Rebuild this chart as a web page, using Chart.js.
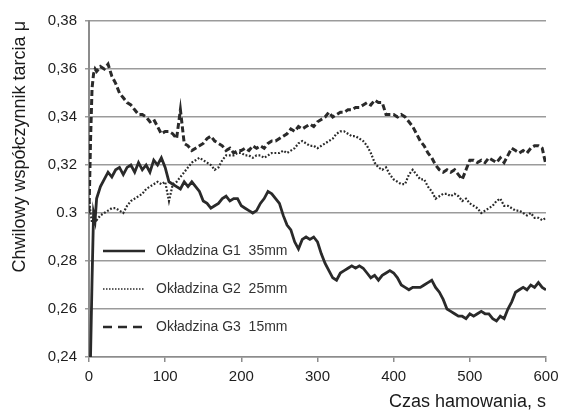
<!DOCTYPE html>
<html>
<head>
<meta charset="utf-8">
<script src="https://cdn.jsdelivr.net/npm/chart.js@4"></script>
<style>
html, body { margin: 0; padding: 0; background: #fff; }
</style>
</head>
<body>
<canvas id="wykres" width="574" height="413"></canvas>
<script>
// czas hamowania [s]
const czas = [
    0, 2, 4, 6, 8,
    10, 15, 20, 25, 30, 35, 40, 45, 50, 55,
    60, 65, 70, 75, 80, 85, 90, 95, 100, 105,
    110, 115, 120, 125, 130, 135, 140, 145, 150, 155,
    160, 165, 170, 175, 180, 185, 190, 195, 200, 205,
    210, 215, 220, 225, 230, 235, 240, 245, 250, 255,
    260, 265, 270, 275, 280, 285, 290, 295, 300, 305,
    310, 315, 320, 325, 330, 335, 340, 345, 350, 355,
    360, 365, 370, 375, 380, 385, 390, 395, 400, 405,
    410, 415, 420, 425, 430, 435, 440, 445, 450, 455,
    460, 465, 470, 475, 480, 485, 490, 495, 500, 505,
    510, 515, 520, 525, 530, 535, 540, 545, 550, 555,
    560, 565, 570, 575, 580, 585, 590, 595, 600
];

// Okładzina G1 35mm
const g1 = [
    0.240, 0.240, 0.272, 0.300, 0.297,
    0.306, 0.311, 0.314, 0.317, 0.315, 0.318, 0.319, 0.316, 0.319, 0.320,
    0.317, 0.321, 0.318, 0.320, 0.317, 0.322, 0.320, 0.323, 0.319, 0.313,
    0.312, 0.311, 0.310, 0.313, 0.311, 0.313, 0.311, 0.309, 0.305, 0.304,
    0.302, 0.303, 0.304, 0.306, 0.307, 0.305, 0.306, 0.306, 0.303, 0.302,
    0.301, 0.300, 0.301, 0.304, 0.306, 0.309, 0.308, 0.306, 0.304, 0.299,
    0.295, 0.293, 0.288, 0.285, 0.289, 0.290, 0.289, 0.290, 0.288, 0.283,
    0.279, 0.276, 0.273, 0.272, 0.275, 0.276, 0.277, 0.278, 0.277, 0.278,
    0.277, 0.275, 0.273, 0.274, 0.272, 0.274, 0.275, 0.276, 0.275, 0.273,
    0.270, 0.269, 0.268, 0.269, 0.269, 0.269, 0.270, 0.271, 0.272, 0.269,
    0.267, 0.264, 0.260, 0.259, 0.258, 0.257, 0.257, 0.256, 0.258, 0.257,
    0.258, 0.259, 0.258, 0.258, 0.256, 0.255, 0.257, 0.256, 0.260, 0.263,
    0.267, 0.268, 0.269, 0.268, 0.270, 0.269, 0.271, 0.269, 0.268
];

// Okładzina G2 25mm
const g2 = [
    0.306, 0.300, 0.296, 0.297, 0.298,
    0.297, 0.299, 0.300, 0.301, 0.302, 0.302, 0.301, 0.300, 0.303, 0.305,
    0.306, 0.307, 0.308, 0.310, 0.311, 0.312, 0.313, 0.312, 0.313, 0.305,
    0.312, 0.313, 0.315, 0.317, 0.319, 0.321, 0.322, 0.323, 0.322, 0.321,
    0.320, 0.318, 0.319, 0.322, 0.324, 0.324, 0.324, 0.325, 0.325, 0.324,
    0.324, 0.323, 0.324, 0.324, 0.323, 0.324, 0.325, 0.325, 0.325, 0.326,
    0.325, 0.326, 0.327, 0.329, 0.330, 0.329, 0.328, 0.328, 0.327, 0.328,
    0.329, 0.330, 0.331, 0.333, 0.334, 0.334, 0.333, 0.332, 0.332, 0.331,
    0.330, 0.328, 0.325, 0.321, 0.319, 0.318, 0.319, 0.316, 0.314, 0.313,
    0.312, 0.312, 0.316, 0.318, 0.316, 0.314, 0.314, 0.311, 0.309, 0.306,
    0.307, 0.308, 0.308, 0.307, 0.308, 0.307, 0.305, 0.306, 0.304, 0.303,
    0.302, 0.300, 0.301, 0.302, 0.303, 0.305, 0.306, 0.303, 0.303, 0.302,
    0.301, 0.301, 0.300, 0.299, 0.300, 0.298, 0.298, 0.297, 0.298
];

// Okładzina G3 15mm
const g3 = [
    0.300, 0.330, 0.352, 0.358, 0.360,
    0.359, 0.361, 0.360, 0.362, 0.357, 0.354, 0.350, 0.348, 0.346, 0.345,
    0.343, 0.341, 0.341, 0.340, 0.338, 0.339, 0.336, 0.333, 0.334, 0.334,
    0.333, 0.331, 0.343, 0.329, 0.328, 0.326, 0.327, 0.328, 0.329, 0.331,
    0.332, 0.330, 0.329, 0.328, 0.326, 0.327, 0.325, 0.326, 0.326, 0.327,
    0.326, 0.328, 0.327, 0.328, 0.327, 0.329, 0.330, 0.330, 0.331, 0.332,
    0.333, 0.335, 0.334, 0.336, 0.335, 0.336, 0.337, 0.336, 0.338, 0.339,
    0.340, 0.342, 0.340, 0.341, 0.342, 0.342, 0.343, 0.343, 0.344, 0.344,
    0.345, 0.346, 0.345, 0.347, 0.346, 0.346, 0.341, 0.341, 0.341, 0.340,
    0.341, 0.340, 0.338, 0.336, 0.333, 0.330, 0.328, 0.325, 0.323, 0.320,
    0.318, 0.317, 0.318, 0.317, 0.318, 0.316, 0.314, 0.318, 0.322, 0.322,
    0.321, 0.322, 0.321, 0.323, 0.322, 0.321, 0.323, 0.321, 0.324, 0.327,
    0.326, 0.325, 0.326, 0.325, 0.327, 0.328, 0.328, 0.327, 0.320
];

const nazwySerii = ['Okładzina G1  35mm', 'Okładzina G2  25mm', 'Okładzina G3  15mm'];
const xTicks = [0, 100, 200, 300, 400, 500, 600];
const yTicks = [0.24, 0.26, 0.28, 0.30, 0.32, 0.34, 0.36, 0.38];
const yTickLabels = ['0,24', '0,26', '0,28', '0.3', '0,32', '0,34', '0,36', '0,38'];

const KOLOR = '#2a2a2a';
const FONT = '"Liberation Sans", Arial, sans-serif';
const legendDash = [[], [1.5, 1.5], [9, 6]];

function punkty(seria) {
    return czas.map((t, i) => ({ x: t, y: seria[i] }));
}

// legenda wewnatrz obszaru wykresu, lewy dolny rog
const legendaWykresu = {
    id: 'legendaWykresu',
    afterDatasetsDraw(chart) {
        const ctx = chart.ctx;
        const a = chart.chartArea;
        ctx.save();
        chart.data.datasets.forEach((ds, i) => {
            const y = a.top + 230 + i * 38;
            ctx.beginPath();
            ctx.setLineDash(legendDash[i]);
            ctx.lineWidth = i === 1 ? 1.5 : 2.5;
            ctx.strokeStyle = ds.borderColor;
            ctx.moveTo(a.left + 14, y);
            ctx.lineTo(a.left + 56, y);
            ctx.stroke();
            ctx.setLineDash([]);
            ctx.fillStyle = '#333';
            ctx.font = '14px ' + FONT;
            ctx.textBaseline = 'middle';
            ctx.textAlign = 'left';
            ctx.fillText(ds.label, a.left + 67, y);
        });
        ctx.restore();
    }
};

new Chart(document.getElementById('wykres'), {
    type: 'line',
    data: {
        datasets: [
            {
                label: nazwySerii[0],
                data: punkty(g1),
                borderColor: KOLOR,
                borderWidth: 2.8,
                pointRadius: 0,
                tension: 0
            },
            {
                label: nazwySerii[1],
                data: punkty(g2),
                borderColor: KOLOR,
                borderWidth: 2.2,
                borderDash: [1.8, 1.8],
                pointRadius: 0,
                tension: 0
            },
            {
                label: nazwySerii[2],
                data: punkty(g3),
                borderColor: KOLOR,
                borderWidth: 3,
                borderDash: [6, 3],
                pointRadius: 0,
                tension: 0
            }
        ]
    },
    options: {
        responsive: false,
        animation: false,
        devicePixelRatio: 1,
        layout: { padding: { top: 21, right: 28, left: 0, bottom: 0 } },
        plugins: {
            legend: { display: false },
            tooltip: { enabled: false }
        },
        scales: {
            x: {
                type: 'linear',
                min: 0,
                max: 600,
                afterBuildTicks: s => { s.ticks = xTicks.map(v => ({ value: v })); },
                afterFit: s => { s.height = 56; },
                ticks: {
                    color: '#1e1e1e',
                    font: { family: FONT, size: 15 },
                    padding: 6,
                    maxRotation: 0
                },
                grid: {
                    drawOnChartArea: false,
                    drawTicks: true,
                    tickLength: 5,
                    color: '#8c8c8c',
                    lineWidth: 1.5
                },
                border: { color: '#8c8c8c', width: 1.5 },
                title: {
                    display: true,
                    text: 'Czas hamowania, s',
                    align: 'end',
                    color: '#1a1a1a',
                    font: { family: FONT, size: 18 },
                    padding: { top: 0, bottom: 0 }
                }
            },
            y: {
                min: 0.24,
                max: 0.38,
                afterBuildTicks: s => { s.ticks = yTicks.map(v => ({ value: v })); },
                afterFit: s => { s.width = 89; },
                ticks: {
                    color: '#1e1e1e',
                    font: { family: FONT, size: 15 },
                    padding: 8,
                    callback: function (value) {
                        const i = yTicks.findIndex(v => Math.abs(v - value) < 1e-6);
                        return i >= 0 ? yTickLabels[i] : '';
                    }
                },
                grid: {
                    color: '#9b9b9b',
                    lineWidth: 1.5,
                    tickLength: 4
                },
                border: { color: '#8c8c8c', width: 2 },
                title: {
                    display: true,
                    text: 'Chwilowy współczynnik tarcia μ',
                    align: 'end',
                    color: '#1a1a1a',
                    font: { family: FONT, size: 18 },
                    padding: { top: 9, bottom: 0 }
                }
            }
        }
    },
    plugins: [legendaWykresu]
});
</script>
</body>
</html>
